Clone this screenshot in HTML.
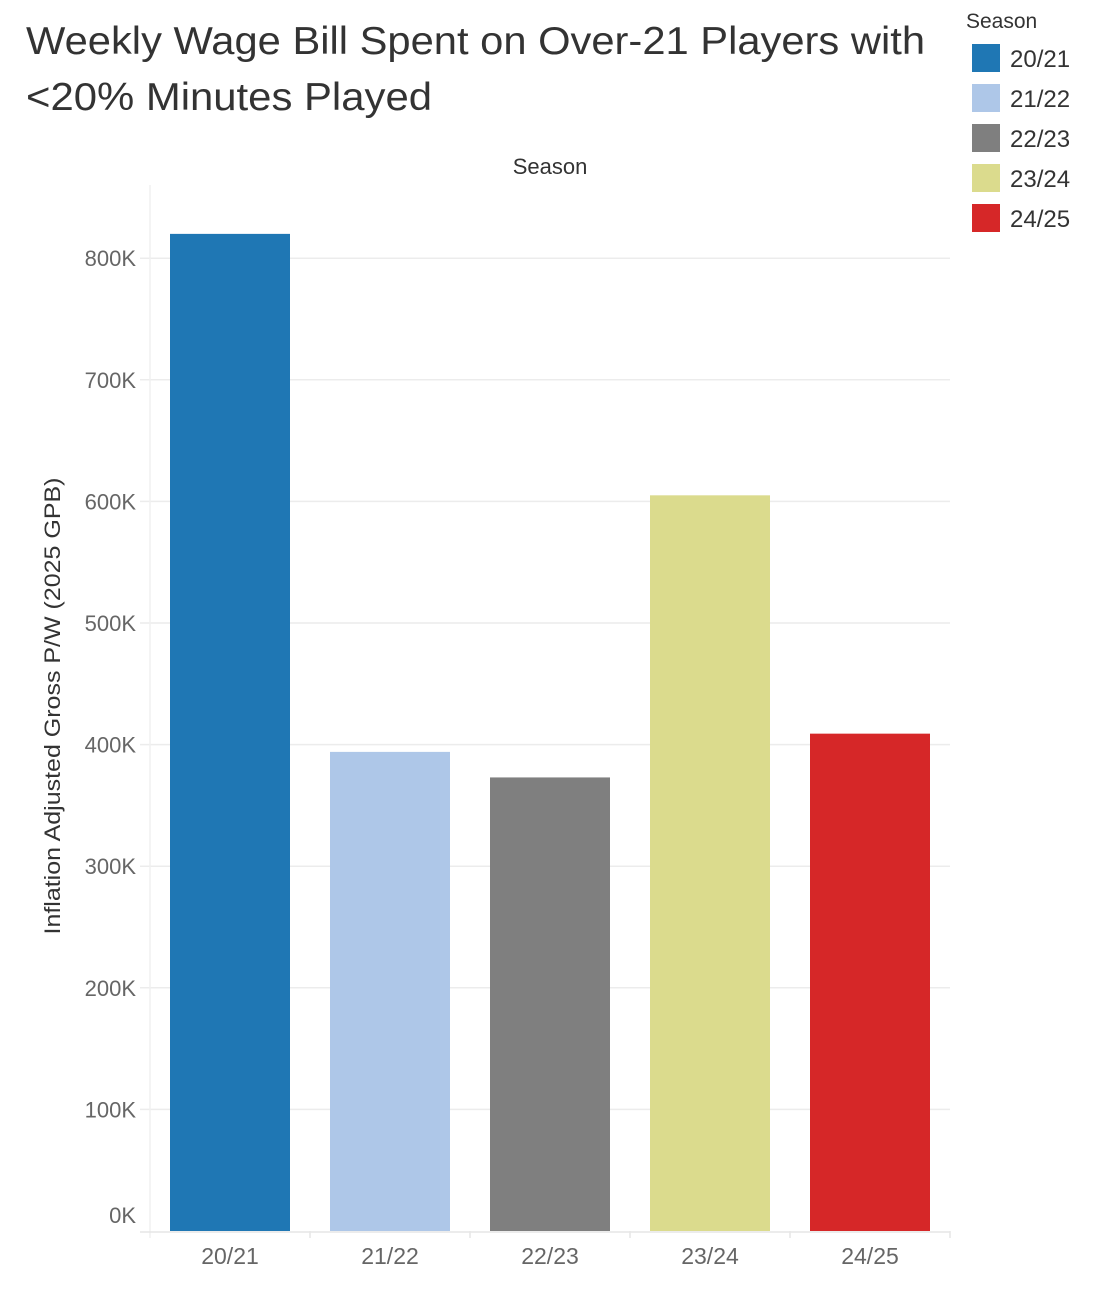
<!DOCTYPE html>
<html><head><meta charset="utf-8"><style>
body{margin:0;background:#fff;font-family:"Liberation Sans",sans-serif;}
svg text{font-family:"Liberation Sans",sans-serif;}
</style></head><body>
<svg id="c" width="1102" height="1300" xmlns="http://www.w3.org/2000/svg">
<text x="26" y="54" font-size="39" fill="#333" textLength="899" lengthAdjust="spacingAndGlyphs">Weekly Wage Bill Spent on Over-21 Players with</text>
<text x="26" y="110" font-size="39" fill="#333" textLength="406" lengthAdjust="spacingAndGlyphs">&lt;20% Minutes Played</text>
<text x="550" y="174" font-size="22" fill="#333" text-anchor="middle">Season</text>
<text x="60" y="706" font-size="22" fill="#333" text-anchor="middle" textLength="457" lengthAdjust="spacingAndGlyphs" transform="rotate(-90 60 706)">Inflation Adjusted Gross P/W (2025 GPB)</text>
<g id="grid"></g><g id="bars"></g><g id="axes"></g>
<g id="legend"><text x="966" y="28" font-size="21" fill="#333">Season</text></g>
</svg>
<script>
const categories=["20/21","21/22","22/23","23/24","24/25"];
const values=[820000,394000,373000,605000,409000];
const colors=["#1f77b4","#aec7e8","#7f7f7f","#dbdb8d","#d62728"];
const ticks=[0,100000,200000,300000,400000,500000,600000,700000,800000];
const tickLabels=["0K","100K","200K","300K","400K","500K","600K","700K","800K"];
const NS="http://www.w3.org/2000/svg";
const y0=1231,pxPer=121.6/100000,x0=150,band=160,bw=120;
const ys=v=>y0-v*pxPer, xs=i=>x0+i*band;
function mk(t,a,p){const e=document.createElementNS(NS,t);for(const k in a)e.setAttribute(k,a[k]);p.appendChild(e);return e;}
const g=document.getElementById('grid'),b=document.getElementById('bars'),ax=document.getElementById('axes'),lg=document.getElementById('legend');
ticks.forEach((t,i)=>{
 if(t>0){const l=mk('line',{x1:140,x2:950,y1:ys(t),y2:ys(t),stroke:'#ececec','stroke-width':1.5},g);
 
 }
 const tx=mk('text',{x:136,y:t>0?ys(t)+8:y0-8,'font-size':22,fill:'#666','text-anchor':'end'},ax);
 tx.textContent=tickLabels[i];
 
 
});
mk('line',{x1:150,x2:150,y1:185,y2:1238,stroke:'#f0f0f0','stroke-width':1.5},ax);
mk('line',{x1:140,x2:950,y1:y0+1,y2:y0+1,stroke:'#e6e6e6','stroke-width':1.5},ax);
categories.forEach((c,i)=>{
 const r=mk('rect',{x:xs(i)+20,y:ys(values[i]),width:bw,height:y0-ys(values[i]),fill:colors[i]},b);
 
 
 mk('line',{x1:xs(i)+band,x2:xs(i)+band,y1:y0,y2:y0+7,stroke:'#e6e6e6','stroke-width':1.5},ax);
 const t=mk('text',{x:xs(i)+80,y:1264,'font-size':23,fill:'#666','text-anchor':'middle'},ax);
 t.textContent=c;
 
 
 const s=mk('rect',{x:972,y:44+i*40,width:28,height:28,fill:colors[i]},lg);
 
 
 const lt=mk('text',{x:1010,y:67+i*40,'font-size':24,fill:'#333'},lg);
 lt.textContent=c;
 
 
});
</script>
</body></html>
